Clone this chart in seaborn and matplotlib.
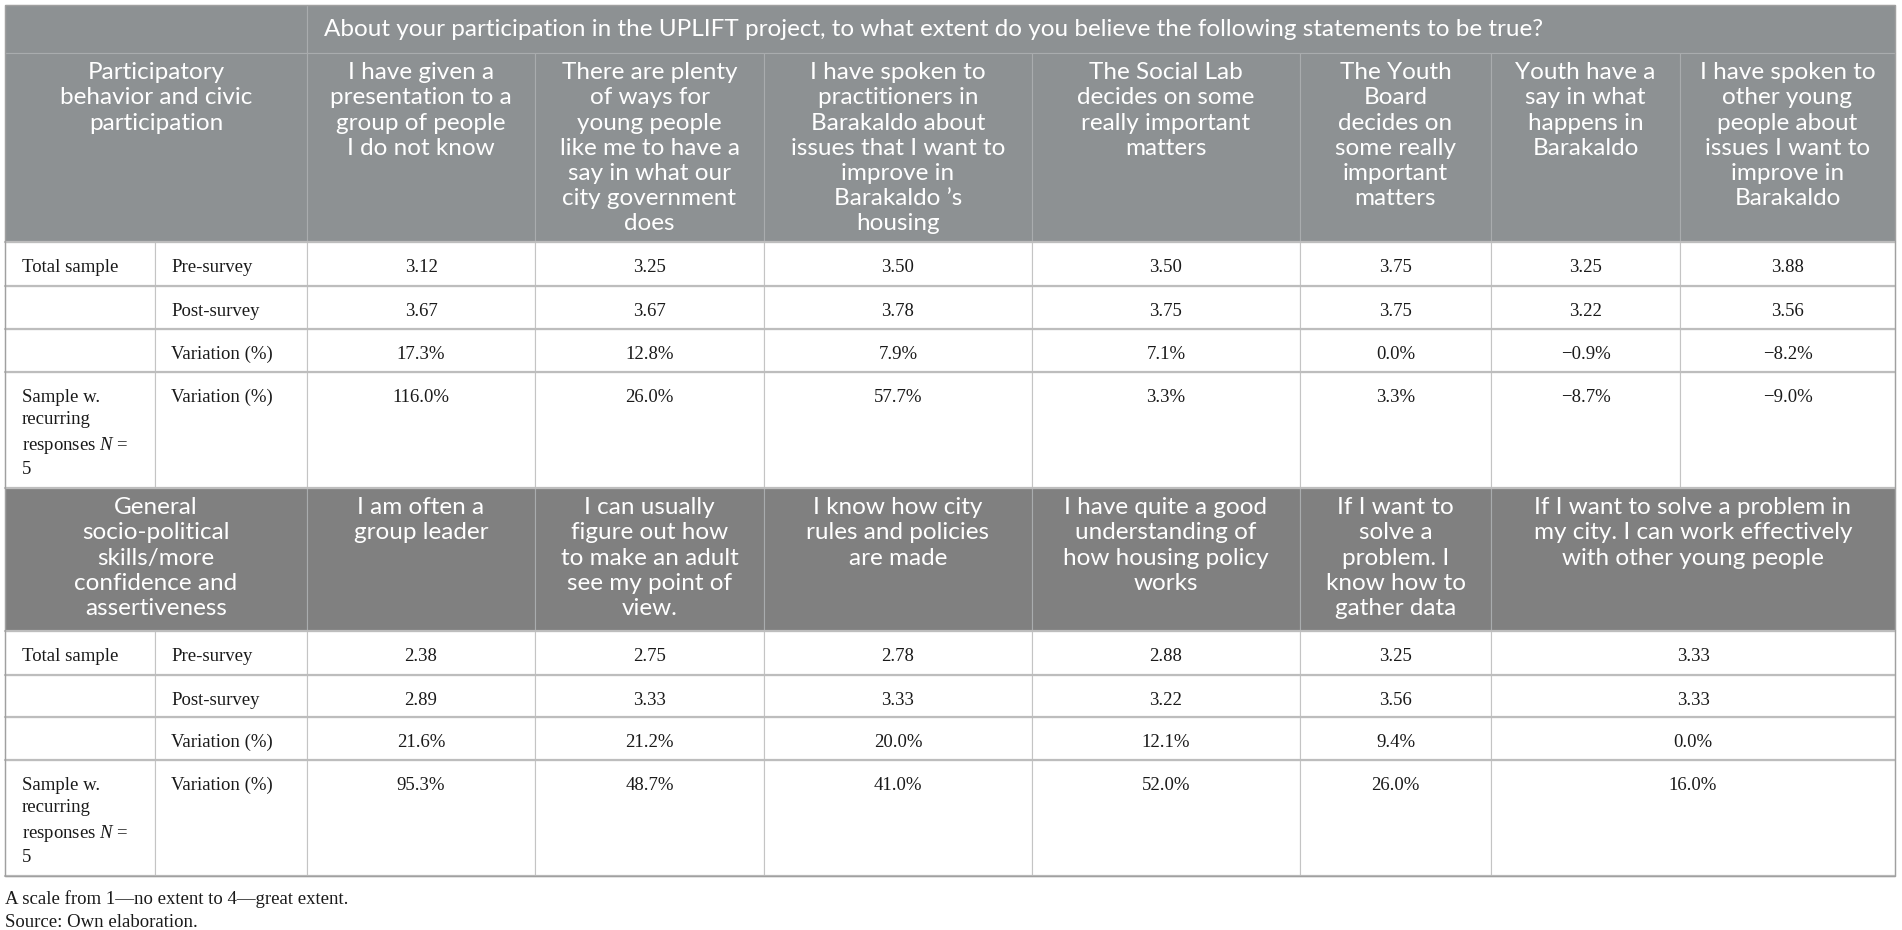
import matplotlib
matplotlib.use('Agg')
import matplotlib.pyplot as plt
import seaborn as sns
from matplotlib.patches import Rectangle

sns.set_theme(style='white')
plt.rcParams['font.family'] = ['Liberation Serif', 'DejaVu Serif']
plt.rcParams['mathtext.fontset'] = 'custom'
plt.rcParams['mathtext.rm'] = 'Liberation Serif'
plt.rcParams['mathtext.it'] = 'Liberation Serif:italic'

# ---- data ----
question = ('About your participation in the UPLIFT project, to what extent do you '
            'believe the following statements to be true?')

group1 = 'Participatory\nbehavior and civic\nparticipation'
items1 = ['I have given a\npresentation to a\ngroup of people\nI do not know',
          'There are plenty\nof ways for\nyoung people\nlike me to have a\nsay in what our\ncity government\ndoes',
          'I have spoken to\npractitioners in\nBarakaldo about\nissues that I want to\nimprove in\nBarakaldo \u2019s\nhousing',
          'The Social Lab\ndecides on some\nreally important\nmatters',
          'The Youth\nBoard\ndecides on\nsome really\nimportant\nmatters',
          'Youth have a\nsay in what\nhappens in\nBarakaldo',
          'I have spoken to\nother young\npeople about\nissues I want to\nimprove in\nBarakaldo']
pre1 = [3.12, 3.25, 3.50, 3.50, 3.75, 3.25, 3.88]
post1 = [3.67, 3.67, 3.78, 3.75, 3.75, 3.22, 3.56]
var1 = [17.3, 12.8, 7.9, 7.1, 0.0, -0.9, -8.2]
rec1 = [116.0, 26.0, 57.7, 3.3, 3.3, -8.7, -9.0]

group2 = 'General\nsocio-political\nskills/more\nconfidence and\nassertiveness'
items2 = ['I am often a\ngroup leader',
          'I can usually\nfigure out how\nto make an adult\nsee my point of\nview.',
          'I know how city\nrules and policies\nare made',
          'I have quite a good\nunderstanding of\nhow housing policy\nworks',
          'If I want to\nsolve a\nproblem. I\nknow how to\ngather data',
          'If I want to solve a problem in\nmy city. I can work effectively\nwith other young people']
pre2 = [2.38, 2.75, 2.78, 2.88, 3.25, 3.33]
post2 = [2.89, 3.33, 3.33, 3.22, 3.56, 3.33]
var2 = [21.6, 21.2, 20.0, 12.1, 9.4, 0.0]
rec2 = [95.3, 48.7, 41.0, 52.0, 26.0, 16.0]

row_groups = ['Total sample', '', '', 'Sample w.\nrecurring\nresponses $N$ =\n5']
row_kinds = ['Pre-survey', 'Post-survey', 'Variation (%)', 'Variation (%)']
notes = ['A scale from 1\u2014no extent to 4\u2014great extent.', 'Source: Own elaboration.']

# ---- layout (pixels) ----
W, H = 1902, 930
col_x = [5, 155, 307, 535, 764, 1032, 1300, 1491, 1680, 1895]
HEAD1 = '#8d9193'
HEAD2 = '#808080'
HEAD_LINE = '#a9acae'
GRID = '#c4c4c4'
TXT = '#1a1a1a'
sans = ['Lato', 'Open Sans', 'DejaVu Sans']
HFS = 17.5   # header font size
BFS = 13.5   # body font size

fig = plt.figure(figsize=(W / 100, H / 100), dpi=100)
ax = fig.add_axes([0, 0, 1, 1])
ax.set_xlim(0, W)
ax.set_ylim(H, 0)
ax.axis('off')


def cell(x0, x1, y0, y1, fc, ec, lw=0.8):
    ax.add_patch(Rectangle((x0, y0), x1 - x0, y1 - y0, facecolor=fc, edgecolor=ec, lw=lw))


def fmt_val(v):
    return f'{v:.2f}'


def fmt_pct(v):
    s = f'{abs(v):.1f}%'
    return ('\u2212' + s) if v < 0 else s


def block(y_head, y_rows, group, items, series, head_color, spans):
    # header row
    cell(col_x[0], col_x[2], y_head[0], y_head[1], head_color, HEAD_LINE)
    ax.text((col_x[0] + col_x[2]) / 2, y_head[0] + 9, group, ha='center', va='top',
            color='white', family=sans, fontsize=HFS, linespacing=1.25)
    for k, (item, (a, b)) in enumerate(zip(items, spans)):
        cell(col_x[a], col_x[b], y_head[0], y_head[1], head_color, HEAD_LINE)
        ax.text((col_x[a] + col_x[b]) / 2, y_head[0] + 9, item, ha='center', va='top',
                color='white', family=sans, fontsize=HFS, linespacing=1.25)
    # data rows
    for r in range(4):
        y0, y1 = y_rows[r], y_rows[r + 1]
        cell(col_x[0], col_x[1], y0, y1, 'white', GRID)
        cell(col_x[1], col_x[2], y0, y1, 'white', GRID)
        ax.text(col_x[0] + 17, y0 + 17, row_groups[r], ha='left', va='top', color=TXT,
                fontsize=BFS, linespacing=1.42)
        ax.text(col_x[1] + 16, y0 + 17, row_kinds[r], ha='left', va='top', color=TXT,
                fontsize=BFS)
        vals = series[r]
        for k, (a, b) in enumerate(spans):
            cell(col_x[a], col_x[b], y0, y1, 'white', GRID)
            txt = fmt_val(vals[k]) if r < 2 else fmt_pct(vals[k])
            ax.text((col_x[a] + col_x[b]) / 2, y0 + 17, txt, ha='center', va='top',
                    color=TXT, fontsize=BFS)
        ax.plot([col_x[0], col_x[-1]], [y0, y0], color='#bdbdbd', lw=1.6, zorder=3)
    ax.plot([col_x[0], col_x[-1]], [y_rows[-1], y_rows[-1]], color='#bdbdbd', lw=1.6, zorder=3)


# title row
cell(col_x[0], col_x[2], 5, 53, HEAD1, HEAD_LINE)
cell(col_x[2], col_x[-1], 5, 53, HEAD1, HEAD_LINE)
ax.text(col_x[2] + 17, 29, question, ha='left', va='center', color='white',
        family=sans, fontsize=HFS)

spans1 = [(i, i + 1) for i in range(2, 9)]
spans2 = [(i, i + 1) for i in range(2, 7)] + [(7, 9)]
block((53, 242), [242, 286, 329, 372, 488], group1, items1,
      [pre1, post1, var1, rec1], HEAD1, spans1)
block((488, 631), [631, 675, 717, 760, 876], group2, items2,
      [pre2, post2, var2, rec2], HEAD2, spans2)

ax.add_patch(Rectangle((col_x[0], 5), col_x[-1] - col_x[0], 871, fill=False,
                       edgecolor='#a0a0a0', lw=1.0, zorder=4))

ax.text(5, 899, notes[0], ha='left', va='center', color=TXT, fontsize=BFS)
ax.text(5, 922, notes[1], ha='left', va='center', color=TXT, fontsize=BFS)

fig.savefig('out.png', dpi=100)
